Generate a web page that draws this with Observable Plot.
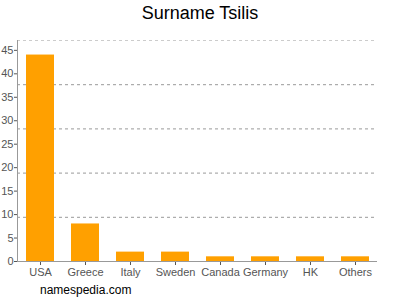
<!DOCTYPE html>
<html>
<head>
<meta charset="utf-8">
<script src="https://cdn.jsdelivr.net/npm/d3@7"></script>
<script src="https://cdn.jsdelivr.net/npm/@observablehq/plot@0.6"></script>
<style>
  body { margin: 0; background: white; }
  #wrap { position: relative; width: 400px; height: 300px; font-family: "Liberation Sans", Arial, sans-serif; }
  #title { position: absolute; top: 3px; left: 0; width: 400px; text-align: center; font-size: 18px; color: #000; }
  #caption { position: absolute; top: 283px; left: 40px; font-size: 12px; color: #000; }
  #chart { position: absolute; top: 0; left: 0; }
</style>
</head>
<body>
<div id="wrap">
  <div id="chart"></div>
  <div id="title">Surname Tsilis</div>
  <div id="caption">namespedia.com</div>
</div>
<script>
const names = ["USA", "Greece", "Italy", "Sweden", "Canada", "Germany", "HK", "Others"];
const counts = [44, 8, 2, 2, 1, 1, 1, 1];
const yTicks = [0, 5, 10, 15, 20, 25, 30, 35, 40, 45];
const yMax = 47.1;
const gridLines = [1, 2, 3, 4].map(i => yMax * i / 5);

const data = names.map((n, i) => ({name: n, count: counts[i]}));

const chart = Plot.plot({
  width: 400,
  height: 300,
  marginTop: 40,
  marginBottom: 39,
  marginLeft: 17,
  marginRight: 23,
  style: {fontFamily: "'Liberation Sans', Arial, sans-serif", fontSize: "11px", color: "#555", background: "white"},
  x: {domain: names, paddingInner: 0.38, paddingOuter: 0.19, label: null, tickSize: 4, tickPadding: 3},
  y: {domain: [0, yMax], ticks: yTicks, label: null, tickSize: 3, tickPadding: 1},
  marks: [
    Plot.ruleY(gridLines, {stroke: "#999", strokeDasharray: "3,3"}),
    Plot.ruleY([yMax], {stroke: "#ccc", strokeDasharray: "3,3"}),
    Plot.barY(data, {x: "name", y: "count", fill: "#ffa000"}),
    Plot.ruleY([0], {stroke: "#999"}),
    Plot.frame({anchor: "left", stroke: "#999"})
  ]
});
document.getElementById("chart").appendChild(chart);
</script>
</body>
</html>
